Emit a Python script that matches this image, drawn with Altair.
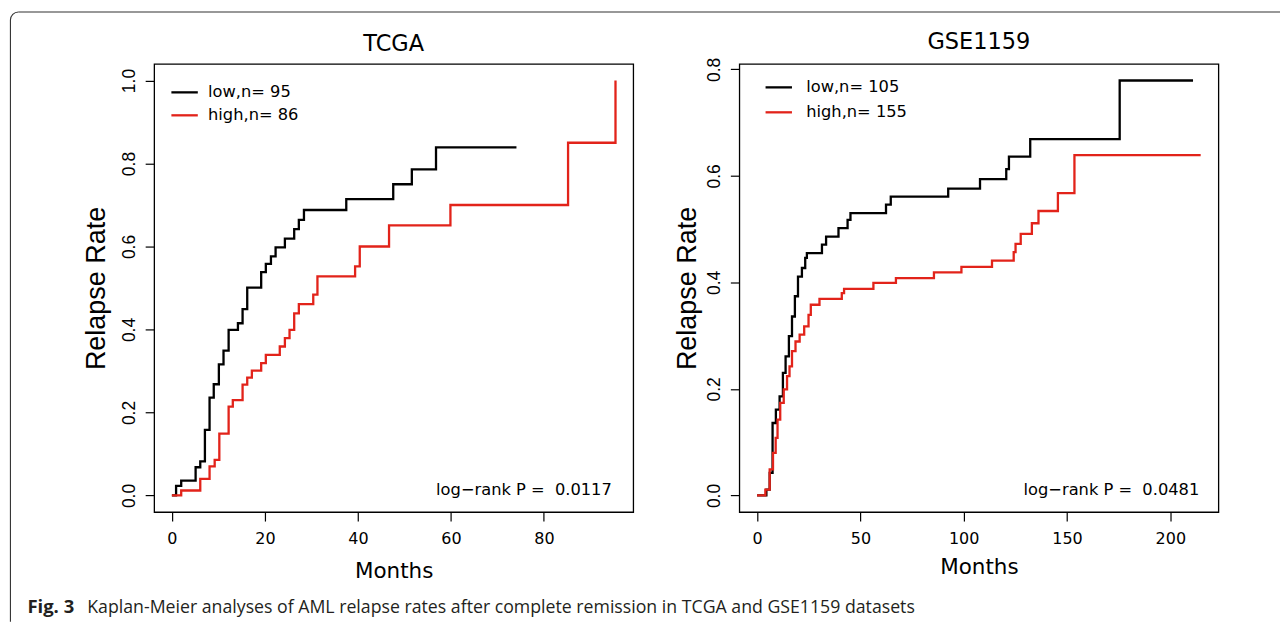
import math
import altair as alt
import pandas as pd

# ---------------- data ----------------
TCGA_LOW_T = [0, 0.9, 2.0, 5.1, 6.1, 7.1, 8.1, 9.0, 10.1, 11.1, 12.2, 14.2, 15.2, 16.2,
              19.2, 20.2, 21.3, 22.3, 24.3, 26.3, 27.3, 28.4, 37.5, 47.6, 51.6, 56.8, 74.1]
TCGA_LOW_V = [0, 0.023, 0.036, 0.068, 0.082, 0.158, 0.236, 0.268, 0.316, 0.349, 0.399, 0.415,
              0.449, 0.501, 0.538, 0.558, 0.576, 0.598, 0.619, 0.642, 0.664, 0.688, 0.714,
              0.750, 0.786, 0.839, 0.839]
TCGA_HIGH_T = [0, 2.0, 6.1, 8.1, 9.2, 10.2, 12.2, 13.1, 15.2, 16.2, 17.2, 19.2, 20.2, 23.2,
               24.3, 25.3, 26.3, 27.3, 30.4, 31.3, 39.4, 40.4, 46.7, 59.9, 85.2, 95.4]
TCGA_HIGH_V = [0, 0.012, 0.040, 0.070, 0.086, 0.149, 0.214, 0.230, 0.267, 0.284, 0.301,
               0.319, 0.339, 0.359, 0.379, 0.399, 0.439, 0.461, 0.484, 0.528, 0.552, 0.600,
               0.651, 0.700, 0.850, 1.0]

GSE_LOW_T = [0, 4.5, 6.1, 7.5, 9.1, 10.9, 12.5, 13.8, 15.4, 16.9, 18.3, 19.8, 21.7, 23.3,
             24.1, 31.4, 33.4, 39.4, 43.8, 45.2, 62.4, 64.7, 92.5, 107.9, 120.6, 121.9,
             132.2, 175.5, 211.0]
GSE_LOW_V = [0, 0.011, 0.0425, 0.136, 0.161, 0.186, 0.23, 0.261, 0.299, 0.336, 0.374, 0.411,
             0.427, 0.446, 0.455, 0.471, 0.486, 0.502, 0.5175, 0.53, 0.546, 0.561, 0.576,
             0.594, 0.6125, 0.636, 0.669, 0.779, 0.779]
GSE_HIGH_T = [0, 4.0, 6.1, 7.7, 9.0, 9.9, 11.2, 12.9, 14.5, 15.7, 16.9, 18.6, 20.6, 22.8,
              24.9, 26.0, 30.2, 41.0, 42.1, 56.3, 67.2, 85.6, 98.9, 113.7, 124.2, 125.1,
              127.6, 133.0, 136.2, 145.6, 153.6, 214.7]
GSE_HIGH_V = [0, 0.011, 0.049, 0.08, 0.108, 0.1425, 0.174, 0.199, 0.224, 0.2425, 0.271,
              0.289, 0.302, 0.3175, 0.339, 0.358, 0.369, 0.38, 0.388, 0.399, 0.408, 0.419,
              0.429, 0.441, 0.457, 0.4725, 0.491, 0.511, 0.534, 0.5675, 0.639, 0.639]

TITLES = ["TCGA", "GSE1159"]
TCGA_GROUPS = ["low,n= 95", "high,n= 86"]
GSE_GROUPS = ["low,n= 105", "high,n= 155"]
LOGRANK_TEXT = ["log\u2212rank P = \u00a00.0117", "log\u2212rank P = \u00a00.0481"]
LOGRANK_X = [94.6, 214.0]
TCGA_XTICKS = [0, 20, 40, 60, 80]
GSE_XTICKS = [0, 50, 100, 150, 200]
TCGA_YTICKS = [0.0, 0.2, 0.4, 0.6, 0.8, 1.0]
GSE_YTICKS = [0.0, 0.2, 0.4, 0.6, 0.8]
CAPTION_BOLD = "Fig. 3"
CAPTION_TEXT = ("Kaplan-Meier analyses of AML relapse rates after complete remission "
                "in TCGA and GSE1159 datasets")

RED = "#e2231a"
BORDER = "#333333"
W, H = 480, 449
HFONT = "DejaVu Sans"
VFONT = "Liberation Sans"


def r_domain(vals):
    lo, hi = min(vals), max(vals)
    pad = (hi - lo) * 0.04
    return [lo - pad, hi + pad]


def panel(title, groups, lt, lv, ht, hv, xticks, yticks, lr_x, lr_text,
          leg_x, leg_y, leg_row, leg_off, ytitle_x, xtitle_y, title_y, extra=()):
    df = pd.concat([
        pd.DataFrame({"month": lt, "rate": lv, "group": groups[0]}),
        pd.DataFrame({"month": ht, "rate": hv, "group": groups[1]}),
    ], ignore_index=True)
    xdom = r_domain(lt + ht)
    ydom = r_domain(lv + hv)
    xenc = alt.X("month:Q", scale=alt.Scale(domain=xdom, nice=False, zero=False),
                 axis=alt.Axis(values=xticks, title="Months", domain=False, grid=False,
                               tickSize=9, tickWidth=1.2, tickColor="black",
                               labelFont=HFONT, labelFontSize=16, labelColor="black",
                               labelPadding=9, labelFlush=False, labelOverlap=False,
                               titleFont=HFONT, titleFontSize=21.5, titleFontWeight="normal",
                               titleColor="black", titleY=xtitle_y, titleBaseline="middle"))
    yenc = alt.Y("rate:Q", scale=alt.Scale(domain=ydom, nice=False, zero=False),
                 axis=alt.Axis(values=yticks, format=".1f", title="Relapse Rate",
                               domain=False, grid=False, tickSize=9, tickWidth=1.2,
                               tickColor="black", labelAngle=270, labelAlign="center",
                               labelBaseline="alphabetic", labelPadding=11,
                               labelFont=VFONT, labelFontSize=17.5, labelColor="black",
                               labelFlush=False, labelOverlap=False,
                               titleFont=VFONT, titleFontSize=27, titleFontWeight="normal",
                               titleColor="black", titleAngle=270, titleX=ytitle_x,
                               titleY=H / 2, titleAlign="center", titleBaseline="middle"))
    color = alt.Color("group:N", scale=alt.Scale(domain=groups, range=["black", RED]),
                      legend=alt.Legend(title=None, orient="none", legendX=leg_x,
                                        legendY=leg_y, symbolType="stroke", symbolSize=700,
                                        symbolStrokeWidth=2.3, labelFont=HFONT,
                                        labelFontSize=16.3, labelColor="black",
                                        labelOffset=leg_off, rowPadding=leg_row, padding=0,
                                        labelLimit=0))
    lines = alt.Chart(df).mark_line(interpolate="step-after", strokeWidth=2.3).encode(
        x=xenc, y=yenc, color=color)
    lr = alt.Chart(pd.DataFrame({"month": [lr_x], "rate": [0.0], "label": [lr_text]})).mark_text(
        align="right", baseline="alphabetic", font=HFONT, fontSize=16.3, color="black"
    ).encode(x=xenc, y=yenc, text="label:N")
    ttl = alt.Chart(pd.DataFrame({"t": [title]})).mark_text(
        align="center", baseline="middle", font=HFONT, fontSize=22.5, color="black"
    ).encode(x=alt.value(W / 2), y=alt.value(title_y), text="t:N")
    return alt.layer(lines, lr, ttl, *extra).properties(width=W, height=H)


one = pd.DataFrame({"k": [0]})
top_rule = alt.Chart(one).mark_rule(color=BORDER, strokeWidth=1.1).encode(
    x=alt.value(-136), x2=alt.value(1128), y=alt.value(-52))
left_rule = alt.Chart(one).mark_rule(color=BORDER, strokeWidth=1.1).encode(
    x=alt.value(-144), y=alt.value(-44), y2=alt.value(559))
corner = alt.Chart(one).mark_arc(color=BORDER, theta=3 * math.pi / 2, theta2=2 * math.pi,
                                 radius=8.55, radius2=7.45).encode(
    x=alt.value(-136), y=alt.value(-44))
cap1 = alt.Chart(pd.DataFrame({"t": [CAPTION_BOLD]})).mark_text(
    align="left", baseline="alphabetic", font="Open Sans", fontWeight="bold",
    fontSize=18.5, color="#231f20").encode(x=alt.value(-127), y=alt.value(549.7), text="t:N")
cap2 = alt.Chart(pd.DataFrame({"t": [CAPTION_TEXT]})).mark_text(
    align="left", baseline="alphabetic", font="Open Sans", fontSize=17.75,
    color="#231f20").encode(x=alt.value(-67), y=alt.value(549.7), text="t:N")

left = panel(TITLES[0], TCGA_GROUPS, TCGA_LOW_T, TCGA_LOW_V, TCGA_HIGH_T, TCGA_HIGH_V,
             TCGA_XTICKS, TCGA_YTICKS, LOGRANK_X[0], LOGRANK_TEXT[0],
             leg_x=16, leg_y=14, leg_row=-7, leg_off=9, ytitle_x=-58, xtitle_y=60,
             title_y=-20, extra=(top_rule, left_rule, corner, cap1, cap2))
right = panel(TITLES[1], GSE_GROUPS, GSE_LOW_T, GSE_LOW_V, GSE_HIGH_T, GSE_HIGH_V,
              GSE_XTICKS, GSE_YTICKS, LOGRANK_X[1], LOGRANK_TEXT[1],
              leg_x=25, leg_y=9, leg_row=2, leg_off=13, ytitle_x=-52, xtitle_y=56,
              title_y=-22)

chart = alt.hconcat(left, right, spacing=106.3, bounds="flush").resolve_scale(
    x="independent", y="independent", color="independent"
).properties(
    padding={"left": 8.45, "top": 9.45, "right": 0, "bottom": 0},
    background="white",
).configure_view(stroke="black", strokeWidth=1.3)

chart.save("out.html", embed_options={"renderer": "svg", "actions": False})
